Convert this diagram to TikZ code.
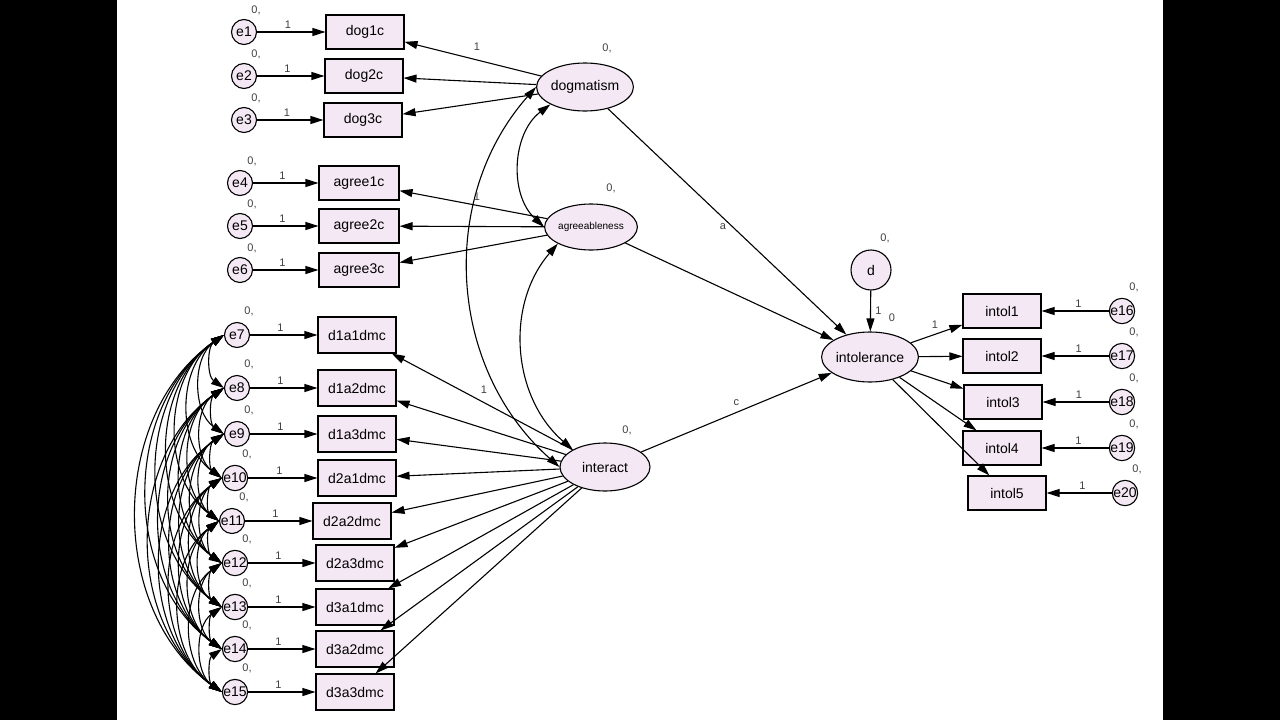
\documentclass[tikz,border=0pt]{standalone}
\usepackage{fontspec}
\setmainfont{Liberation Sans}
\usetikzlibrary{arrows.meta,shapes.geometric}
\colorlet{fillc}{violet!9}

\tikzset{
  obs/.style={draw,line width=1.1pt,fill=fillc,minimum width=78pt,minimum height=34pt,inner sep=1pt,font=\fontsize{14}{14}\selectfont},
  lat/.style={draw,ellipse,line width=1.1pt,fill=fillc,minimum width=92pt,minimum height=48pt,inner sep=0pt,font=\fontsize{14}{14}\selectfont},
  err/.style={draw,circle,line width=1.1pt,fill=fillc,minimum size=25pt,inner sep=0pt,font=\fontsize{14}{14}\selectfont},
  lbl/.style={font=\fontsize{11}{11}\selectfont,text=black!75},
  pth/.style={line width=1.1pt,-{Triangle[length=13pt,width=8pt]}},
  cov/.style={line width=1.1pt,{Triangle[length=13pt,width=8pt]}-{Triangle[length=13pt,width=8pt]}}
}

\begin{document}
\begin{tikzpicture}[x=1pt,y=-1pt]

	% Background and side bars
	\fill[black] (0,0) rectangle (1280,720);
	\fill[white] (117,0) rectangle (1163,720);

	% Latent variables
	\node[lat] (dogm) at (585,87) {dogmatism};
	\node[lat,minimum width=84pt,minimum height=46pt,font=\fontsize{10}{10}\selectfont] (agree) at (591,227) {agreeableness};
	\node[lat,minimum width=90pt] (inter) at (605,467) {interact};
	\node[lat,minimum height=50pt] (intol) at (870,357) {intolerance};
	\node[err,minimum size=40pt] (d) at (871,270) {d};

	% Dogmatism indicators
	\foreach \i/\y/\bx in {1/32/365,2/76/364,3/120/363}{
		\node[err] (e\i) at (244,\y) {e\i};
		\node[obs] (dog\i) at (\bx,\y) {dog\i c};
		\draw[pth] (e\i) -- node[lbl,above,pos=0.45] {1} (dog\i);
		\node[lbl] at (256,\y-22) {0,};
		\draw[pth] (dogm) -- (dog\i);
	}

	% Agreeableness indicators
	\foreach \i/\n/\y in {4/1/183,5/2/226,6/3/270}{
		\node[err] (e\i) at (240,\y) {e\i};
		\node[obs,minimum width=80pt] (agr\n) at (359,\y) {agree\n c};
		\draw[pth] (e\i) -- node[lbl,above,pos=0.45] {1} (agr\n);
		\node[lbl] at (252,\y-22) {0,};
		\draw[pth] (agree) -- (agr\n);
	}

	% Interact indicators
	\foreach \i/\t/\y/\ex/\bx in {7/d1a1dmc/335/237/357,8/d1a2dmc/388/237/357,9/d1a3dmc/434/237/357,
		10/d2a1dmc/478/235/357,11/d2a2dmc/521/232/352,12/d2a3dmc/563/235/355,
		13/d3a1dmc/607/235/355,14/d3a2dmc/649/235/355,15/d3a3dmc/692/235/355}{
		\node[err] (e\i) at (\ex,\y) {e\i};
		\node[obs,minimum height=36pt] (\t) at (\bx,\y) {\t};
		\draw[pth] (e\i) -- node[lbl,above,pos=0.45] {1} (\t);
		\node[lbl] at (\ex+12,\y-24) {0,};
		\draw[pth] (inter) -- (\t);
	}

	% Covariances among interact errors
	\foreach \a in {7,...,14}{
		\pgfmathtruncatemacro{\s}{\a+1}
		\foreach \b in {\s,...,15}{
			\draw[cov] (e\a.west) to[bend right=55] (e\b.west);
		}
	}

	% Intolerance indicators
	\foreach \i/\y/\bx/\ex in {1/311/1002/1122,2/356/1002/1122,3/402/1003/1122,4/448/1002/1122,5/493/1007/1125}{
		\pgfmathtruncatemacro{\k}{\i+15}
		\node[obs] (intol\i) at (\bx,\y) {intol\i};
		\node[err] (e\k) at (\ex,\y) {e\k};
		\draw[pth] (e\k) -- node[lbl,above,pos=0.45] {1} (intol\i);
		\node[lbl] at (\ex+12,\y-24) {0,};
		\draw[pth] (intol) -- (intol\i);
	}

	% Structural paths
	\draw[pth] (dogm) -- node[lbl,pos=0.52,left=2pt] {a} (intol);
	\draw[pth] (agree) -- (intol);
	\draw[pth] (inter) -- node[lbl,pos=0.5,above=3pt] {c} (intol);
	\draw[pth] (d) -- node[lbl,right=1pt] {1} (intol);

	% Latent covariances
	\draw[cov] (dogm.south west) to[bend right=50] (agree.west);
	\draw[cov] (agree.south west) to[bend right=45] (inter.north west);
	\draw[cov] (dogm.west) to[bend right=45] (inter.west);

	% Parameter labels
	\node[lbl] at (477,47) {1};
	\node[lbl] at (477,197) {1};
	\node[lbl] at (484,390) {1};
	\node[lbl] at (935,325) {1};
	\node[lbl] at (607,48) {0,};
	\node[lbl] at (611,188) {0,};
	\node[lbl] at (627,430) {0,};
	\node[lbl] at (885,238) {0,};
	\node[lbl] at (892,318) {0};

\end{tikzpicture}
\end{document}
